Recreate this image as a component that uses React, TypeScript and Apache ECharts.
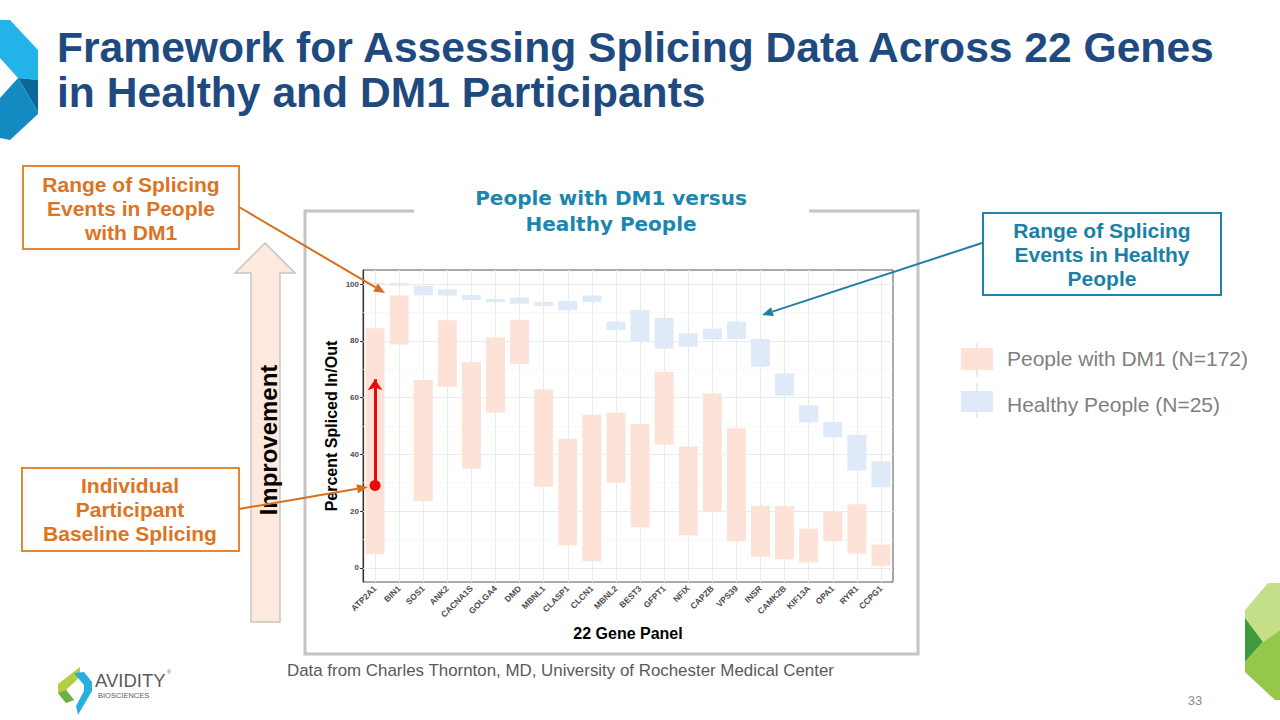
import React, { useEffect, useRef } from 'react';
import * as echarts from 'echarts';

const genes = ['ATP2A1', 'BIN1', 'SOS1', 'ANK2', 'CACNA1S', 'GOLGA4', 'DMD', 'MBNL1', 'CLASP1', 'CLCN1', 'MBNL2', 'BEST3', 'GFPT1', 'NFIX', 'CAPZB', 'VPS39', 'INSR', 'CAMK2B', 'KIF13A', 'OPA1', 'RYR1', 'CCPG1'];
const dm1Low = [4.9, 78.7, 23.6, 63.8, 34.9, 54.8, 71.9, 28.6, 8.0, 2.3, 30.1, 14.3, 43.5, 11.5, 19.7, 9.4, 3.9, 3.0, 1.9, 9.4, 5.0, 0.7];
const dm1High = [84.5, 96.0, 66.2, 87.3, 72.6, 81.2, 87.4, 62.9, 45.5, 54.0, 54.7, 50.7, 69.1, 42.8, 61.5, 49.2, 21.9, 21.8, 13.8, 19.9, 22.4, 8.2];
const healthyLow = [99.6, 99.5, 96.1, 96.0, 94.5, 93.7, 93.1, 92.3, 90.8, 93.7, 83.8, 79.9, 77.3, 77.9, 80.5, 80.7, 70.9, 60.7, 51.3, 46.0, 34.3, 28.4];
const healthyHigh = [100.5, 100.4, 99.4, 98.2, 96.2, 94.8, 95.3, 93.8, 94.1, 96.0, 86.8, 90.9, 88.1, 82.6, 84.3, 86.8, 80.7, 68.5, 57.3, 51.4, 46.8, 37.5];
const yTicks = [0, 20, 40, 60, 80, 100];
const yMinor = [10, 30, 50, 70, 90];
const participantBaseline = 29;
const participantImproved = 66.5;

const DM1_COLOR = '#fde2d8';
const HEALTHY_COLOR = '#deeaf7';
const ORANGE = '#dc7424';
const TEAL = '#1a80a6';
const FONT = '"Liberation Sans", Arial, sans-serif';

function arrowEls(x1: number, y1: number, x2: number, y2: number, color: string, w: number, head = 11) {
  const ang = Math.atan2(y2 - y1, x2 - x1);
  const bx = x2 - head * Math.cos(ang);
  const by = y2 - head * Math.sin(ang);
  const px = Math.sin(ang) * head * 0.42;
  const py = -Math.cos(ang) * head * 0.42;
  return [
    { type: 'line', z: 100, shape: { x1, y1, x2: bx, y2: by }, style: { stroke: color, lineWidth: w } },
    { type: 'polygon', z: 100, shape: { points: [[x2, y2], [bx + px, by + py], [bx - px, by - py]] }, style: { fill: color } },
  ];
}

function rangeItem(color: string, widthRatio: number) {
  return (params: any, api: any) => {
    const x = api.value(0);
    const lo = api.value(1);
    const hi = api.value(2);
    const p1 = api.coord([x, hi]);
    const p2 = api.coord([x, lo]);
    const w = api.size([1, 0])[0] * widthRatio;
    return {
      type: 'rect',
      shape: { x: p1[0] - w / 2, y: p1[1], width: w, height: Math.max(1.5, p2[1] - p1[1]) },
      style: { fill: color },
    };
  };
}

export default function App() {
  const ref = useRef<HTMLDivElement>(null);
  useEffect(() => {
    if (!ref.current) return;
    const chart = echarts.init(ref.current, null, { renderer: 'svg' });

    const gridMarks = [
      ...yTicks.map((v) => ({ yAxis: v, lineStyle: { color: '#ebebeb', width: 1.1, type: 'solid' } })),
      ...yMinor.map((v) => ({ yAxis: v, lineStyle: { color: '#f5f5f5', width: 0.7, type: 'solid' } })),
      ...genes.map((g) => ({ xAxis: g, lineStyle: { color: '#ebebeb', width: 1.1, type: 'solid' } })),
    ];

    const elements: any[] = [
      // Title
      { type: 'text', z: 100, style: { text: 'Framework for Assessing Splicing Data Across 22 Genes', x: 57, y: 47, fill: '#1f4a80', font: `bold 42.6px ${FONT}`, textVerticalAlign: 'middle' } },
      { type: 'text', z: 100, style: { text: 'in Healthy and DM1 Participants', x: 57, y: 92, fill: '#1f4a80', font: `bold 42.6px ${FONT}`, textVerticalAlign: 'middle' } },
      // top-left logo
      { type: 'polygon', shape: { points: [[0, 20], [10, 20], [38, 50], [38, 80], [18, 78], [0, 58]] }, style: { fill: '#22b4e8' } },
      { type: 'polygon', shape: { points: [[18, 78], [38, 80], [38, 112]] }, style: { fill: '#0b6797' } },
      { type: 'polygon', shape: { points: [[0, 98], [18, 78], [38, 112], [38, 114], [10, 140], [0, 138]] }, style: { fill: '#138bc2' } },
      // bottom-right logo
      { type: 'polygon', shape: { points: [[1268, 583], [1280, 583], [1280, 630], [1263, 642], [1245, 618], [1245, 610]] }, style: { fill: '#c5df88' } },
      { type: 'polygon', shape: { points: [[1245, 618], [1263, 642], [1245, 662]] }, style: { fill: '#3f9b3c' } },
      { type: 'polygon', shape: { points: [[1245, 662], [1263, 642], [1280, 630], [1280, 700], [1275, 700], [1245, 672]] }, style: { fill: '#95c84a' } },
      // Avidity logo
      { type: 'polygon', shape: { points: [[80, 667], [80, 677], [66, 690], [74, 700], [66, 703], [58, 693], [58, 684]] }, style: { fill: '#b3cf45' } },
      { type: 'polygon', shape: { points: [[66, 690], [74, 700], [66, 703], [58, 693]] }, style: { fill: '#6db04a' } },
      { type: 'polygon', shape: { points: [[74, 673], [84, 672], [92, 682], [92, 691], [78, 715], [76, 706], [84, 691], [84, 685]] }, style: { fill: '#29aee2' } },
      { type: 'text', style: { text: 'AVIDITY', x: 95, y: 680, fill: '#5a5a5a', font: `18.5px ${FONT}`, textVerticalAlign: 'middle' } },
      { type: 'text', style: { text: '®', x: 167, y: 672, fill: '#5a5a5a', font: `5px ${FONT}`, textVerticalAlign: 'middle' } },
      { type: 'text', style: { text: 'BIOSCIENCES', x: 98, y: 695, fill: '#5a5a5a', font: `7.5px ${FONT}`, textVerticalAlign: 'middle' } },
      // page number
      { type: 'text', style: { text: '33', x: 1195, y: 700, fill: '#8c8c8c', font: `13px ${FONT}`, textAlign: 'center', textVerticalAlign: 'middle' } },
      // frame around chart
      { type: 'polyline', shape: { points: [[414, 211], [305, 211], [305, 654], [918, 654], [918, 211], [809, 211]] }, style: { stroke: '#c4c4c4', lineWidth: 3, fill: null } },
      { type: 'text', style: { text: 'People with DM1 versus', x: 611, y: 198, fill: '#1b86ae', font: `bold 20px "DejaVu Sans", sans-serif`, textAlign: 'center', textVerticalAlign: 'middle' } },
      { type: 'text', style: { text: 'Healthy People', x: 611, y: 224, fill: '#1b86ae', font: `bold 20px "DejaVu Sans", sans-serif`, textAlign: 'center', textVerticalAlign: 'middle' } },
      // Improvement arrow
      { type: 'polygon', shape: { points: [[235, 273], [265, 243], [295, 273], [280, 273], [280, 622], [251, 622], [251, 273]] }, style: { fill: '#fde9dd', stroke: '#cbc3be', lineWidth: 1.5 } },
      { type: 'text', x: 268, y: 440, rotation: Math.PI / 2, style: { text: 'Improvement', fill: '#000', font: `bold 24px ${FONT}`, textAlign: 'center', textVerticalAlign: 'middle' } },
      // callout: DM1 range
      { type: 'rect', z: 100, shape: { x: 23, y: 166, width: 216, height: 83 }, style: { fill: '#fff', stroke: '#e08838', lineWidth: 2 } },
      { type: 'text', z: 101, style: { text: 'Range of Splicing\nEvents in People\nwith DM1', x: 131, y: 208, fill: ORANGE, font: `bold 21px ${FONT}`, lineHeight: 24, textAlign: 'center', textVerticalAlign: 'middle' } },
      ...arrowEls(239, 207, 385, 293, '#d86f1c', 2),
      // callout: individual baseline
      { type: 'rect', z: 100, shape: { x: 22, y: 468, width: 217, height: 83 }, style: { fill: '#fff', stroke: '#e08838', lineWidth: 2 } },
      { type: 'text', z: 101, style: { text: 'Individual\nParticipant\nBaseline Splicing', x: 130, y: 509, fill: ORANGE, font: `bold 21px ${FONT}`, lineHeight: 24, textAlign: 'center', textVerticalAlign: 'middle' } },
      ...arrowEls(239, 509, 368, 487, '#d86f1c', 2),
      // callout: healthy range
      { type: 'rect', z: 100, shape: { x: 983, y: 213, width: 238, height: 82 }, style: { fill: '#fff', stroke: '#1e85aa', lineWidth: 2 } },
      { type: 'text', z: 101, style: { text: 'Range of Splicing\nEvents in Healthy\nPeople', x: 1102, y: 254, fill: TEAL, font: `bold 21px ${FONT}`, lineHeight: 24, textAlign: 'center', textVerticalAlign: 'middle' } },
      ...arrowEls(982, 243, 762, 315, '#1f80a5', 2),
      // legend
      { type: 'line', shape: { x1: 977, y1: 343, x2: 977, y2: 377 }, style: { stroke: '#f6ddd3', lineWidth: 1.5 } },
      { type: 'rect', shape: { x: 961, y: 348, width: 32, height: 22 }, style: { fill: DM1_COLOR } },
      { type: 'line', shape: { x1: 977, y1: 383, x2: 977, y2: 418 }, style: { stroke: '#dbe6f3', lineWidth: 1.5 } },
      { type: 'rect', shape: { x: 961, y: 391, width: 32, height: 21 }, style: { fill: HEALTHY_COLOR } },
      { type: 'text', style: { text: 'People with DM1 (N=172)', x: 1007, y: 358, fill: '#7f7f7f', font: `21px ${FONT}`, textVerticalAlign: 'middle' } },
      { type: 'text', style: { text: 'Healthy People (N=25)', x: 1007, y: 404, fill: '#7f7f7f', font: `21px ${FONT}`, textVerticalAlign: 'middle' } },
      // footer
      { type: 'text', style: { text: 'Data from Charles Thornton, MD, University of Rochester Medical Center', x: 287, y: 670, fill: '#595959', font: `16.9px ${FONT}`, textVerticalAlign: 'middle' } },
    ];

    chart.setOption({
      animation: false,
      backgroundColor: '#fff',
      grid: { left: 363, top: 270, width: 530, height: 312, show: true, borderColor: '#555', borderWidth: 1, backgroundColor: '#fff', containLabel: false },
      xAxis: {
        type: 'category',
        data: genes,
        name: '22 Gene Panel',
        nameLocation: 'middle',
        nameGap: 43,
        nameTextStyle: { fontFamily: 'Liberation Sans', fontWeight: 'bold', fontSize: 16, color: '#000' },
        axisLine: { show: true, lineStyle: { color: '#333', width: 1.2 } },
        axisTick: { show: true, alignWithLabel: true, length: 3, lineStyle: { color: '#333' } },
        axisLabel: { interval: 0, rotate: 45, fontSize: 8.5, fontWeight: 'bold', color: '#4d4d4d', margin: 5, fontFamily: 'Liberation Sans' },
        splitLine: { show: false },
      },
      yAxis: {
        type: 'value',
        min: -5,
        max: 105,
        name: 'Percent Spliced In/Out',
        nameLocation: 'middle',
        nameGap: 24,
        nameRotate: 90,
        nameTextStyle: { fontFamily: 'Liberation Sans', fontWeight: 'bold', fontSize: 16, color: '#000' },
        axisLine: { show: true, lineStyle: { color: '#333', width: 1.2 } },
        axisTick: { show: true, length: 3, customValues: yTicks, lineStyle: { color: '#333' } },
        axisLabel: { customValues: yTicks, fontSize: 8, fontWeight: 'bold', color: '#4d4d4d', margin: 4, fontFamily: 'Liberation Sans' },
        splitLine: { show: false },
      },
      series: [
        {
          type: 'line',
          data: [],
          silent: true,
          markLine: { z: 1, silent: true, symbol: ['none', 'none'], label: { show: false }, data: gridMarks },
        },
        {
          type: 'custom',
          name: 'People with DM1',
          z: 3,
          renderItem: rangeItem(DM1_COLOR, 0.79),
          encode: { x: 0, y: [1, 2] },
          data: genes.map((_, i) => [i, dm1Low[i], dm1High[i]]),
          markLine: {
            z: 6,
            silent: true,
            symbol: ['circle', 'arrow'],
            symbolSize: [11, 11],
            label: { show: false },
            lineStyle: { color: '#e80a0a', width: 3, type: 'solid' },
            data: [[{ coord: [0, participantBaseline] }, { coord: [0, participantImproved] }]],
          },
        },
        {
          type: 'custom',
          name: 'Healthy People',
          z: 3,
          renderItem: rangeItem(HEALTHY_COLOR, 0.79),
          encode: { x: 0, y: [1, 2] },
          data: genes.map((_, i) => [i, healthyLow[i], healthyHigh[i]]),
        },
      ],
      graphic: { elements },
    });
    return () => chart.dispose();
  }, []);
  return <div ref={ref} style={{ position: 'fixed', left: 0, top: 0, width: 1280, height: 720, background: '#fff' }} />;
}
